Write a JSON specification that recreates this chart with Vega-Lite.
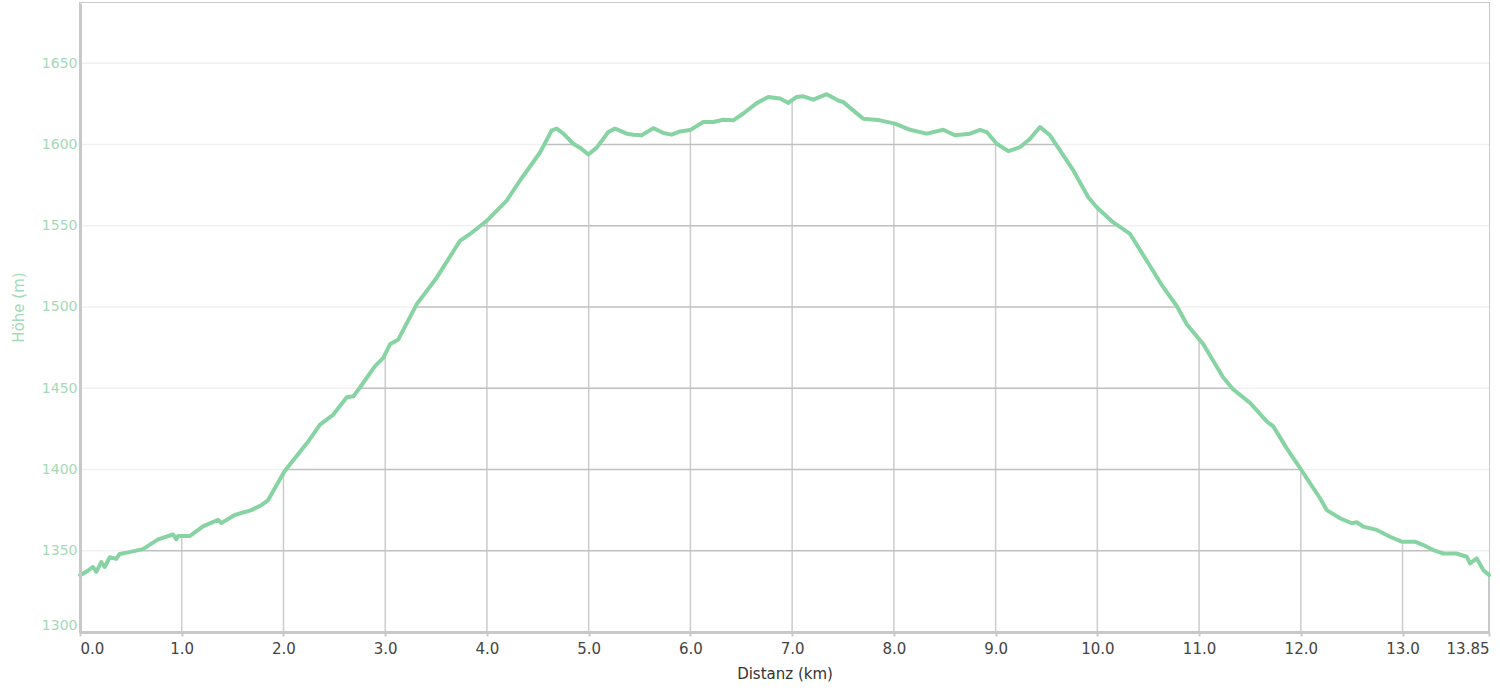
{
  "$schema": "https://vega.github.io/schema/vega-lite/v6.json",
  "width": 1409,
  "height": 629,
  "autosize": {"type": "none"},
  "padding": {"left": 80, "top": 3, "right": 11, "bottom": 61},
  "background": "#ffffff",
  "config": {
    "view": {"stroke": "#c8c8c8", "strokeWidth": 2},
    "font": "DejaVu Sans"
  },
  "datasets": {
    "profile": [
      {"km": 0.0, "elev": 1335},
      {"km": 0.06, "elev": 1337},
      {"km": 0.128, "elev": 1340},
      {"km": 0.16, "elev": 1337},
      {"km": 0.209, "elev": 1343},
      {"km": 0.243, "elev": 1340},
      {"km": 0.292, "elev": 1346},
      {"km": 0.357, "elev": 1345},
      {"km": 0.39, "elev": 1348},
      {"km": 0.472, "elev": 1349},
      {"km": 0.619, "elev": 1351},
      {"km": 0.767, "elev": 1357},
      {"km": 0.914, "elev": 1360},
      {"km": 0.947, "elev": 1357},
      {"km": 0.963, "elev": 1359},
      {"km": 1.078, "elev": 1359},
      {"km": 1.209, "elev": 1365},
      {"km": 1.357, "elev": 1369},
      {"km": 1.389, "elev": 1367},
      {"km": 1.521, "elev": 1372},
      {"km": 1.684, "elev": 1375},
      {"km": 1.782, "elev": 1378},
      {"km": 1.848, "elev": 1381},
      {"km": 2.012, "elev": 1399},
      {"km": 2.241, "elev": 1417},
      {"km": 2.359, "elev": 1427.6},
      {"km": 2.49, "elev": 1433.8},
      {"km": 2.622, "elev": 1444.4},
      {"km": 2.687, "elev": 1445},
      {"km": 2.769, "elev": 1452},
      {"km": 2.9, "elev": 1463.6},
      {"km": 2.981, "elev": 1468.7},
      {"km": 3.047, "elev": 1477},
      {"km": 3.129, "elev": 1480},
      {"km": 3.31, "elev": 1501.7},
      {"km": 3.506, "elev": 1518},
      {"km": 3.735, "elev": 1540.7},
      {"km": 3.834, "elev": 1544.9},
      {"km": 3.998, "elev": 1553},
      {"km": 4.194, "elev": 1565.4},
      {"km": 4.325, "elev": 1577.8},
      {"km": 4.522, "elev": 1595},
      {"km": 4.637, "elev": 1608.6},
      {"km": 4.686, "elev": 1609.7},
      {"km": 4.751, "elev": 1606.6},
      {"km": 4.849, "elev": 1600.4},
      {"km": 4.915, "elev": 1598},
      {"km": 4.997, "elev": 1593.8},
      {"km": 5.079, "elev": 1598},
      {"km": 5.193, "elev": 1607.6},
      {"km": 5.259, "elev": 1609.7},
      {"km": 5.374, "elev": 1606.6},
      {"km": 5.439, "elev": 1606},
      {"km": 5.521, "elev": 1605.6},
      {"km": 5.636, "elev": 1610},
      {"km": 5.734, "elev": 1607},
      {"km": 5.816, "elev": 1606},
      {"km": 5.898, "elev": 1608},
      {"km": 5.996, "elev": 1608.8},
      {"km": 6.127, "elev": 1613.8},
      {"km": 6.225, "elev": 1613.8},
      {"km": 6.324, "elev": 1615.2},
      {"km": 6.422, "elev": 1614.8},
      {"km": 6.52, "elev": 1619},
      {"km": 6.652, "elev": 1625.4},
      {"km": 6.766, "elev": 1629.2},
      {"km": 6.881, "elev": 1628.2},
      {"km": 6.963, "elev": 1625.5},
      {"km": 7.045, "elev": 1629.2},
      {"km": 7.11, "elev": 1629.6},
      {"km": 7.208, "elev": 1627.6},
      {"km": 7.34, "elev": 1630.9},
      {"km": 7.454, "elev": 1627},
      {"km": 7.503, "elev": 1626},
      {"km": 7.618, "elev": 1620},
      {"km": 7.7, "elev": 1615.8},
      {"km": 7.864, "elev": 1614.8},
      {"km": 8.011, "elev": 1612.8},
      {"km": 8.159, "elev": 1609},
      {"km": 8.323, "elev": 1606.6},
      {"km": 8.486, "elev": 1609},
      {"km": 8.601, "elev": 1605.6},
      {"km": 8.749, "elev": 1606.6},
      {"km": 8.847, "elev": 1609},
      {"km": 8.913, "elev": 1607.6},
      {"km": 9.011, "elev": 1600.4},
      {"km": 9.125, "elev": 1595.9},
      {"km": 9.24, "elev": 1598.3},
      {"km": 9.338, "elev": 1603.5},
      {"km": 9.437, "elev": 1610.7},
      {"km": 9.535, "elev": 1605.6},
      {"km": 9.633, "elev": 1596.3},
      {"km": 9.764, "elev": 1584},
      {"km": 9.911, "elev": 1567.5},
      {"km": 9.994, "elev": 1561.3},
      {"km": 10.157, "elev": 1552},
      {"km": 10.322, "elev": 1544.9},
      {"km": 10.486, "elev": 1528.4},
      {"km": 10.649, "elev": 1512},
      {"km": 10.781, "elev": 1500.6},
      {"km": 10.879, "elev": 1489.3},
      {"km": 11.042, "elev": 1477},
      {"km": 11.239, "elev": 1456.4},
      {"km": 11.337, "elev": 1449.2},
      {"km": 11.501, "elev": 1441},
      {"km": 11.665, "elev": 1429.6},
      {"km": 11.73, "elev": 1426.5},
      {"km": 11.862, "elev": 1413},
      {"km": 11.993, "elev": 1400.8},
      {"km": 12.189, "elev": 1382.3},
      {"km": 12.255, "elev": 1375},
      {"km": 12.386, "elev": 1370},
      {"km": 12.501, "elev": 1366.9},
      {"km": 12.55, "elev": 1367.5},
      {"km": 12.615, "elev": 1364.8},
      {"km": 12.747, "elev": 1362.8},
      {"km": 12.877, "elev": 1358.6},
      {"km": 12.992, "elev": 1355.6},
      {"km": 13.123, "elev": 1355.6},
      {"km": 13.205, "elev": 1353.5},
      {"km": 13.303, "elev": 1350.4},
      {"km": 13.402, "elev": 1348.3},
      {"km": 13.531, "elev": 1348.3},
      {"km": 13.631, "elev": 1346.3},
      {"km": 13.664, "elev": 1342.2},
      {"km": 13.73, "elev": 1345.3},
      {"km": 13.795, "elev": 1338},
      {"km": 13.85, "elev": 1335}
    ],
    "xgrid": [
      {"km": 1}, {"km": 2}, {"km": 3}, {"km": 4}, {"km": 5}, {"km": 6}, {"km": 7},
      {"km": 8}, {"km": 9}, {"km": 10}, {"km": 11}, {"km": 12}, {"km": 13}
    ],
    "ygrid": [
      {"elev": 1350}, {"elev": 1400}, {"elev": 1450}, {"elev": 1500},
      {"elev": 1550}, {"elev": 1600}, {"elev": 1650}
    ]
  },
  "encoding": {
    "x": {
      "field": "km",
      "type": "quantitative",
      "title": "Distanz (km)",
      "scale": {"domain": [0, 13.85], "nice": false, "zero": false},
      "axis": {
        "values": [0, 1, 2, 3, 4, 5, 6, 7, 8, 9, 10, 11, 12, 13, 13.85],
        "labelExpr": "datum.value === 13.85 ? '13.85' : format(datum.value, '.1f')",
        "labelFlush": true,
        "labelFont": "DejaVu Sans",
        "labelFontSize": 15,
        "labelColor": "#444444",
        "labelPadding": 5,
        "tickColor": "#c8c8c8",
        "tickSize": 4,
        "tickWidth": 2,
        "domainColor": "#c8c8c8",
        "domainWidth": 3,
        "grid": false,
        "titleFont": "DejaVu Sans",
        "titleFontSize": 15,
        "titleFontWeight": "normal",
        "titleColor": "#333333",
        "titlePadding": 10,
        "zindex": 1
      }
    }
  },
  "layer": [
    {
      "data": {"name": "xgrid"},
      "mark": {"type": "rule", "stroke": "#cccccc", "strokeWidth": 1.5},
      "encoding": {}
    },
    {
      "data": {"name": "ygrid"},
      "mark": {"type": "rule", "stroke": "#cccccc", "strokeWidth": 1.5},
      "encoding": {
        "x": null,
        "y": {
          "field": "elev",
          "type": "quantitative",
          "title": "Höhe (m)",
          "scale": {"domain": [1300, 1687], "nice": false, "zero": false},
          "axis": {
            "values": [1300, 1350, 1400, 1450, 1500, 1550, 1600, 1650],
            "format": "d",
            "labelFlush": true,
            "labelFont": "DejaVu Sans",
            "labelFontSize": 14,
            "labelColor": "#a6d9b5",
            "labelPadding": 3,
            "ticks": false,
            "domainColor": "#c8c8c8",
            "domainWidth": 3,
            "grid": false,
            "titleFont": "DejaVu Sans",
            "titleFontSize": 15,
            "titleFontWeight": "normal",
            "titleColor": "#a6d9b5",
            "titlePadding": 15,
            "titleY": 304,
            "zindex": 1
          }
        }
      }
    },
    {
      "data": {"name": "profile"},
      "mark": {"type": "area", "fill": "#ffffff", "stroke": null},
      "encoding": {
        "y": {"field": "elev", "type": "quantitative", "title": "Höhe (m)"},
        "y2": {"datum": 1687}
      }
    },
    {
      "data": {"name": "ygrid"},
      "mark": {"type": "rule", "stroke": "#000000", "strokeOpacity": 0.06, "strokeWidth": 1.5},
      "encoding": {
        "x": null,
        "y": {"field": "elev", "type": "quantitative", "title": "Höhe (m)"}
      }
    },
    {
      "data": {"name": "profile"},
      "mark": {"type": "line", "stroke": "#88d3a3", "strokeWidth": 4, "strokeJoin": "round", "strokeCap": "round"},
      "encoding": {
        "y": {"field": "elev", "type": "quantitative", "title": "Höhe (m)"}
      }
    }
  ]
}
